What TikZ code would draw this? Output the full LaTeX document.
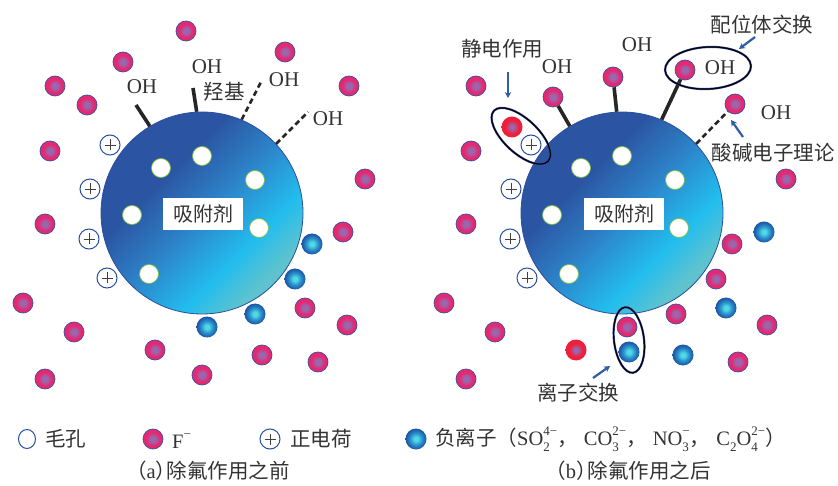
\documentclass[tikz,border=0pt]{standalone}
\usepackage{fontspec}
\setmainfont{Liberation Serif}
\newfontfamily\cjk{Noto Sans CJK SC}
\usetikzlibrary{shapes.geometric,arrows.meta}

\definecolor{txtgray}{HTML}{333333}
\definecolor{fpink}{HTML}{E5286F}
\definecolor{fcore}{HTML}{9A66AE}
\definecolor{fline}{HTML}{3C4DA0}
\definecolor{fred}{HTML}{EE1F3B}
\definecolor{acore}{HTML}{4FD8E6}
\definecolor{amid}{HTML}{2A92CC}
\definecolor{aouter}{HTML}{1D56A6}
\definecolor{sphtop}{HTML}{2B54A2}
\definecolor{sphcen}{HTML}{2D82C8}
\definecolor{sphmid}{HTML}{22BDEE}
\definecolor{sphbot}{HTML}{5EC3CE}
\definecolor{sphline}{HTML}{2A4E9E}
\definecolor{poreline}{HTML}{7DC242}
\definecolor{chgline}{HTML}{2850A2}
\definecolor{arrblue}{HTML}{2F5DAA}

% ball and sorbent shadings
\pgfdeclareradialshading{fball}{\pgfpoint{0bp}{0bp}}{color(0bp)=(fcore); color(7bp)=(fcore); color(17bp)=(fpink); color(50bp)=(fpink)}
\pgfdeclareradialshading{fredball}{\pgfpoint{0bp}{0bp}}{color(0bp)=(fcore); color(5bp)=(fcore); color(16bp)=(fred); color(50bp)=(fred)}
\pgfdeclareradialshading{aball}{\pgfpoint{0bp}{0bp}}{color(0bp)=(acore); color(5bp)=(acore); color(14bp)=(amid); color(24bp)=(aouter); color(50bp)=(aouter)}
\pgfdeclareverticalshading{sorbgrad}{100bp}{color(0bp)=(sphbot); color(27bp)=(sphbot); color(36bp)=(sphmid); color(50bp)=(sphcen); color(63bp)=(sphtop); color(100bp)=(sphtop)}

% small scripts for ion formulas
\newcommand\chemsz{\fontsize{13}{13}\selectfont}
\newcommand\chemsub[1]{\raisebox{-.3em}{\chemsz #1}}
\newcommand\chemsup[1]{\raisebox{.48em}{\chemsz #1}}
\newcommand\chemss[2]{\makebox[0pt][l]{\chemsub{#1}}\chemsup{#2}}

\tikzset{
  sorbent/.style={circle, minimum size=202pt, inner sep=0pt, draw=sphline, line width=.8pt,
    shading=sorbgrad, shading angle=45},
  sorblabel/.style={fill=white, minimum width=80pt, minimum height=32pt, inner sep=0pt,
    text=txtgray, font=\cjk\fontsize{20}{22}\selectfont},
  pore/.style={circle, minimum size=19pt, inner sep=0pt, fill=white, draw=poreline, line width=.7pt},
  poschg/.style={circle, minimum size=20pt, inner sep=0pt, fill=white, draw=chgline, line width=1pt,
    path picture={\draw[black!75, line width=.6pt]
      ([xshift=-5.5pt]path picture bounding box.center) -- ([xshift=5.5pt]path picture bounding box.center)
      ([yshift=-5.5pt]path picture bounding box.center) -- ([yshift=5.5pt]path picture bounding box.center);}},
  fion/.style={circle, minimum size=20pt, inner sep=0pt, shading=fball, draw=fline, line width=.7pt},
  fredion/.style={circle, minimum size=21pt, inner sep=0pt, shading=fredball},
  anion/.style={circle, minimum size=21pt, inner sep=0pt, shading=aball},
  ohbond/.style={line width=3.6pt, draw=black!85},
  ohdash/.style={line width=2.6pt, draw=black!85, dash pattern=on 5.5pt off 3.5pt},
  ohtxt/.style={inner sep=0pt, text=txtgray, font=\fontsize{21}{23}\selectfont},
  note/.style={inner sep=0pt, text=txtgray, font=\cjk\fontsize{20.5}{23}\selectfont},
  ring/.style={ellipse, inner sep=0pt, draw=black, line width=1.2pt,
    preaction={draw=fline, line width=2.2pt}},
  callout/.style={-{Stealth[length=6pt,width=6.5pt]}, line width=2.2pt, draw=arrblue},
  legtxt/.style={inner sep=0pt, anchor=west, text=txtgray, font=\fontsize{20.5}{23}\selectfont},
}

\begin{document}
\begin{tikzpicture}[x=1pt, y=-1pt]
\useasboundingbox (0,0) rectangle (838,486);

% ---------- (a) before ----------
\node[sorbent] (sphA) at (202,213) {};
\foreach \x/\y [count=\i] in {161/168, 202/156, 255/180, 132/215, 259/228, 149/274}
  \node[pore] (pA\i) at (\x,\y) {};
\node[sorblabel] (labA) at (203,214) {吸附剂};

% hydroxyl groups
\coordinate (ohA1) at (136,105);
\coordinate (ohA2) at (193,88);
\coordinate (ohA3) at (262,80);
\coordinate (ohA4) at (308,112);
\draw[ohbond] (sphA.121) -- (ohA1);
\draw[ohbond] (sphA.93) -- (ohA2);
\draw[ohdash] (sphA.67) -- (ohA3);
\draw[ohdash] (sphA.43) -- (ohA4);
\node[ohtxt] (tA1) at (142,87) {OH};
\node[ohtxt] (tA2) at (207,67) {OH};
\node[ohtxt] (tA3) at (284,80) {OH};
\node[ohtxt] (tA4) at (328,119) {OH};
\node[note] (hydroxyl) at (224,92) {羟基};

% charges and ions
\foreach \x/\y [count=\i] in {110/145, 90/189, 89/239, 107/278}
  \node[poschg] (cA\i) at (\x,\y) {};
\foreach \x/\y [count=\i] in {186/31, 123/62, 285/52, 55/86, 87/105, 349/86, 50/151, 365/179,
    45/224, 343/232, 23/303, 74/332, 305/308, 347/325, 155/350, 262/355, 318/362, 45/379, 202/375}
  \node[fion] (fA\i) at (\x,\y) {};
\foreach \x/\y [count=\i] in {312/244, 295/279, 255/314, 207/327}
  \node[anion] (aA\i) at (\x,\y) {};

% ---------- (b) after ----------
\node[sorbent] (sphB) at (622,213) {};
\foreach \x/\y [count=\i] in {581/168, 622/156, 675/180, 552/215, 679/228, 569/274}
  \node[pore] (pB\i) at (\x,\y) {};
\node[sorblabel] (labB) at (624,214) {吸附剂};

% fluoride bound to hydroxyl sites
\node[fion] (bB1) at (553,97) {};
\node[fion] (bB2) at (613,77) {};
\node[fion] (bB3) at (685,70) {};
\node[fion] (bB4) at (735,104) {};
\draw[ohbond] (sphB.121) -- (bB1);
\draw[ohbond] (sphB.93) -- (bB2);
\draw[ohbond] (sphB.67) -- (bB3);
\draw[ohdash] (sphB.43) -- (bB4);
\node[ohtxt] (tB1) at (557,67) {OH};
\node[ohtxt] (tB2) at (637,45) {OH};
\node[ohtxt] (tB3) at (720,68) {OH};
\node[ohtxt] (tB4) at (776,113) {OH};

\foreach \x/\y [count=\i] in {511/189, 510/239, 527/278}
  \node[poschg] (cB\i) at (\x,\y) {};
\foreach \x/\y [count=\i] in {476/86, 471/151, 466/224, 444/303, 495/332, 466/379,
    786/179, 732/244, 716/279, 676/314, 767/325, 738/362}
  \node[fion] (fB\i) at (\x,\y) {};
\foreach \x/\y [count=\i] in {764/232, 726/308, 683/355}
  \node[anion] (aB\i) at (\x,\y) {};
\node[fredion] (rB2) at (576,350) {};

% electrostatic pair
\node[fredion] (rB1) at (512,127) {};
\node[poschg] (cB4) at (531,145) {};
\node[ring, minimum width=74pt, minimum height=34pt, rotate=-43] (pairE) at (521,136) {};

% ion exchange pair
\node[fion] (xF) at (627,327) {};
\node[anion] (xA) at (629,352) {};
\node[ring, minimum width=30pt, minimum height=66pt, rotate=7] (pairX) at (629,340) {};

% ligand exchange
\node[ring, minimum width=86pt, minimum height=42pt, rotate=3] (pairL) at (708,68) {};

% mechanism labels
\node[note] (estat) at (502,49) {静电作用};
\node[note] (ligand) at (762,25) {配位体交换};
\node[note] (acidbase) at (773,153) {酸碱电子理论};
\node[note] (ionex) at (578,393) {离子交换};
\coordinate (e1) at (508,72);  \coordinate (e2) at (508,98);
\coordinate (l1) at (755,37);  \coordinate (l2) at (739,49);
\coordinate (k1) at (743,137); \coordinate (k2) at (731,120);
\coordinate (i1) at (593,378); \coordinate (i2) at (610,366);
\draw[callout] (e1) -- (e2);
\draw[callout] (l1) -- (l2);
\draw[callout] (k1) -- (k2);
\draw[callout] (i1) -- (i2);

% ---------- legend ----------
\node[ellipse, minimum width=17pt, minimum height=19pt, inner sep=0pt, draw=chgline, line width=1pt] (kPore) at (27,439) {};
\node[legtxt] (kPoreT) at (45,439) {\cjk 毛孔};
\node[fion] (kF) at (153,439) {};
\node[legtxt] (kFT) at (172,441) {F\chemsup{−}};
\node[poschg] (kC) at (270,439) {};
\node[legtxt] (kCT) at (290,439) {\cjk 正电荷};
\node[anion] (kA) at (416,439) {};
\node[legtxt] (kAT) at (435,439) {{\cjk 负离子（}SO\chemss{2}{4−}{\cjk ，}\hspace{.3em}CO\chemss{3}{2−}{\cjk ，}\hspace{.3em}NO\chemss{3}{−}{\cjk ，}\hspace{.3em}C\chemsub{2}O\chemss{4}{2−}{\cjk ）}};

\node[legtxt, anchor=center] (capA) at (208,471) {{\cjk （}a{\cjk ）}\hspace{-.45em}{\cjk 除氟作用之前}};
\node[legtxt, anchor=center] (capB) at (628,471) {{\cjk （}b{\cjk ）}\hspace{-.45em}{\cjk 除氟作用之后}};
\end{tikzpicture}
\end{document}
